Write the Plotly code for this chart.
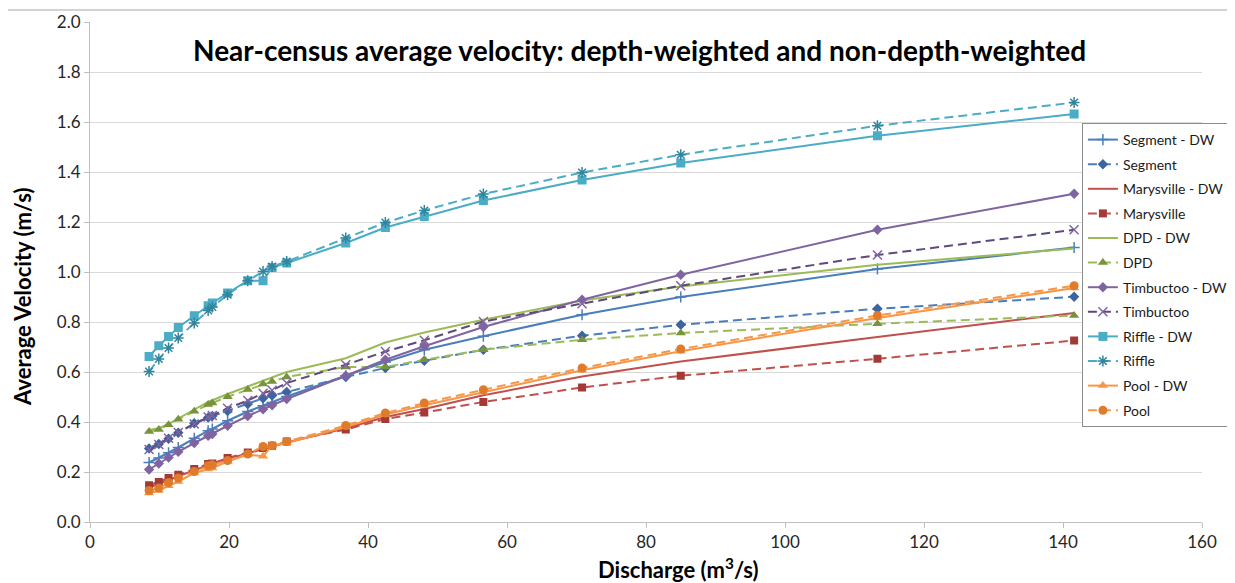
import plotly.graph_objects as go

discharge = [8.5, 9.9, 11.3, 12.7, 15.0, 17.0, 17.6, 19.8, 22.7, 24.9, 26.2, 28.3,
             36.8, 42.5, 48.1, 56.6, 70.8, 85.0, 113.3, 141.6]

segment_dw = [0.238, 0.256, 0.277, 0.298, 0.335, 0.365, 0.372, 0.405, 0.442, 0.465, 0.478, 0.502,
              0.585, 0.640, 0.689, 0.743, 0.829, 0.900, 1.012, 1.098]
segment = [0.294, 0.312, 0.333, 0.357, 0.395, 0.418, 0.424, 0.444, 0.472, 0.495, 0.506, 0.520,
           0.580, 0.616, 0.645, 0.689, 0.745, 0.789, 0.853, 0.901]
marysville_dw = [0.138, 0.152, 0.168, 0.183, 0.207, 0.228, 0.232, 0.252, 0.274, 0.290, 0.300, 0.318,
                 0.375, 0.420, 0.452, 0.507, 0.582, 0.642, 0.740, 0.836]
marysville = [0.147, 0.160, 0.176, 0.189, 0.212, 0.232, 0.234, 0.256, 0.278, 0.296, 0.305, 0.322,
              0.370, 0.412, 0.438, 0.480, 0.538, 0.585, 0.653, 0.726]
dpd_dw = [0.368, 0.375, 0.392, 0.415, 0.450, 0.480, 0.487, 0.512, 0.542, 0.565, 0.578, 0.600,
          0.655, 0.718, 0.758, 0.809, 0.886, 0.942, 1.029, 1.094]
dpd = [0.362, 0.370, 0.389, 0.411, 0.443, 0.470, 0.476, 0.501, 0.530, 0.552, 0.562, 0.580,
       0.620, 0.620, 0.649, 0.689, 0.729, 0.756, 0.793, 0.826]
timbuctoo_dw = [0.210, 0.234, 0.258, 0.281, 0.316, 0.345, 0.352, 0.385, 0.424, 0.451, 0.467, 0.492,
                0.585, 0.649, 0.703, 0.780, 0.889, 0.989, 1.169, 1.313]
timbuctoo = [0.290, 0.310, 0.335, 0.358, 0.392, 0.420, 0.426, 0.455, 0.486, 0.515, 0.527, 0.556,
             0.629, 0.682, 0.727, 0.802, 0.873, 0.945, 1.068, 1.169]
riffle_dw = [0.662, 0.705, 0.742, 0.778, 0.825, 0.865, 0.876, 0.916, 0.965, 0.965, 1.018, 1.036,
             1.116, 1.178, 1.222, 1.286, 1.368, 1.436, 1.545, 1.632]
riffle = [0.602, 0.652, 0.696, 0.736, 0.796, 0.846, 0.860, 0.909, 0.965, 1.002, 1.022, 1.042,
          1.136, 1.198, 1.246, 1.312, 1.398, 1.469, 1.585, 1.678]
pool_dw = [0.116, 0.126, 0.145, 0.162, 0.196, 0.212, 0.216, 0.242, 0.270, 0.263, 0.305, 0.316,
           0.380, 0.430, 0.467, 0.519, 0.607, 0.683, 0.816, 0.936]
pool = [0.126, 0.136, 0.158, 0.176, 0.202, 0.225, 0.229, 0.246, 0.272, 0.302, 0.306, 0.322,
        0.386, 0.436, 0.476, 0.529, 0.616, 0.692, 0.826, 0.945]

x_ticks = [0, 20, 40, 60, 80, 100, 120, 140, 160]
y_ticks = [0.0, 0.2, 0.4, 0.6, 0.8, 1.0, 1.2, 1.4, 1.6, 1.8, 2.0]

DASH = "9px,5px"
series = [
    ("Segment - DW", segment_dw, "#4A7EBB", "solid", "cross-thin", "#4A7EBB", 8),
    ("Segment", segment, "#4A7EBB", DASH, "diamond", "#3B64A0", 8),
    ("Marysville - DW", marysville_dw, "#C0504D", "solid", None, None, 0),
    ("Marysville", marysville, "#C0504D", DASH, "square", "#A33A36", 8),
    ("DPD - DW", dpd_dw, "#9BBB59", "solid", None, None, 0),
    ("DPD", dpd, "#9BBB59", DASH, "triangle-up", "#77933C", 9),
    ("Timbuctoo - DW", timbuctoo_dw, "#8064A2", "solid", "diamond", "#8064A2", 8),
    ("Timbuctoo", timbuctoo, "#604A7B", DASH, "x-thin", "#8064A2", 9),
    ("Riffle - DW", riffle_dw, "#4BACC6", "solid", "square", "#4BACC6", 9),
    ("Riffle", riffle, "#4BACC6", DASH, "asterisk", "#31859C", 9),
    ("Pool - DW", pool_dw, "#F79646", "solid", "triangle-up", "#F79646", 9),
    ("Pool", pool, "#F79646", DASH, "circle", "#E07B2B", 9),
]

fig = go.Figure()
for i, (name, ys, color, dash, sym, mcol, msize) in enumerate(series):
    if sym is None:
        mode = "lines"
        marker = None
    else:
        mode = "lines+markers"
        if sym in ("cross-thin", "x-thin", "asterisk"):
            marker = dict(symbol=sym, size=msize, color=mcol, line=dict(color=mcol, width=1.5))
        else:
            marker = dict(symbol=sym, size=msize, color=mcol, line=dict(width=0))
    fig.add_trace(go.Scatter(
        x=discharge, y=ys, name=name, mode=mode, legendgroup=f"g{i}",
        line=dict(color=color, width=2, dash=dash),
        marker=marker,
    ))

FONT = "Lato"
fig.update_layout(
    width=1235, height=583,
    paper_bgcolor="white", plot_bgcolor="white",
    margin=dict(l=82, r=41, t=14, b=69, autoexpand=False),
    font=dict(family=FONT, color="#262626"),
    showlegend=True,
    legend=dict(
        x=0.892, xanchor="left", y=0.798, yanchor="top",
        bgcolor="white", bordercolor="#8C8C8C", borderwidth=1,
        font=dict(family=FONT, size=14, color="#1a1a1a"),
        itemwidth=30, tracegroupgap=3.4,
    ),
    annotations=[
        dict(text="<b>Near-census average velocity: depth-weighted and non-depth-weighted</b>",
             xref="paper", yref="paper", x=0.4946, y=0.944, xanchor="center", yanchor="middle",
             showarrow=False, font=dict(family=FONT, size=28, color="#000000")),
        dict(text="<b>Discharge (m<sup>3</sup>/s)</b>",
             xref="paper", yref="paper", x=0.529, y=-0.092, xanchor="center", yanchor="middle",
             showarrow=False, font=dict(family=FONT, size=22, color="#000000")),
        dict(text="<b>Average Velocity (m/s)</b>", textangle=-90,
             xref="paper", yref="paper", x=-0.0612, y=0.45, xanchor="center", yanchor="middle",
             showarrow=False, font=dict(family=FONT, size=22, color="#000000")),
    ],
    shapes=[
        dict(type="line", xref="paper", yref="paper", x0=-0.0746, x1=-0.0746, y0=1.024, y1=-0.2,
             line=dict(color="#A6A6A6", width=1)),
        dict(type="line", xref="paper", yref="paper", x0=-0.0746, x1=1.04, y0=1.024, y1=1.024,
             line=dict(color="#A6A6A6", width=1)),
    ],
)
fig.update_xaxes(
    range=[0, 160], tickvals=x_ticks, ticktext=[str(v) for v in x_ticks],
    showgrid=False, zeroline=False,
    showline=True, linecolor="#BFBFBF", linewidth=1,
    ticks="outside", ticklen=5, tickcolor="#BFBFBF",
    tickfont=dict(family=FONT, size=17, color="#262626"),
)
fig.update_yaxes(
    range=[0, 2.0], tickvals=y_ticks, ticktext=[f"{v:.1f}" for v in y_ticks],
    showgrid=True, gridcolor="#D9D9D9", gridwidth=1, zeroline=False,
    showline=True, linecolor="#BFBFBF", linewidth=1,
    ticks="outside", ticklen=5, tickcolor="#BFBFBF",
    tickfont=dict(family=FONT, size=17, color="#262626"),
)

fig.write_html("out.html")
